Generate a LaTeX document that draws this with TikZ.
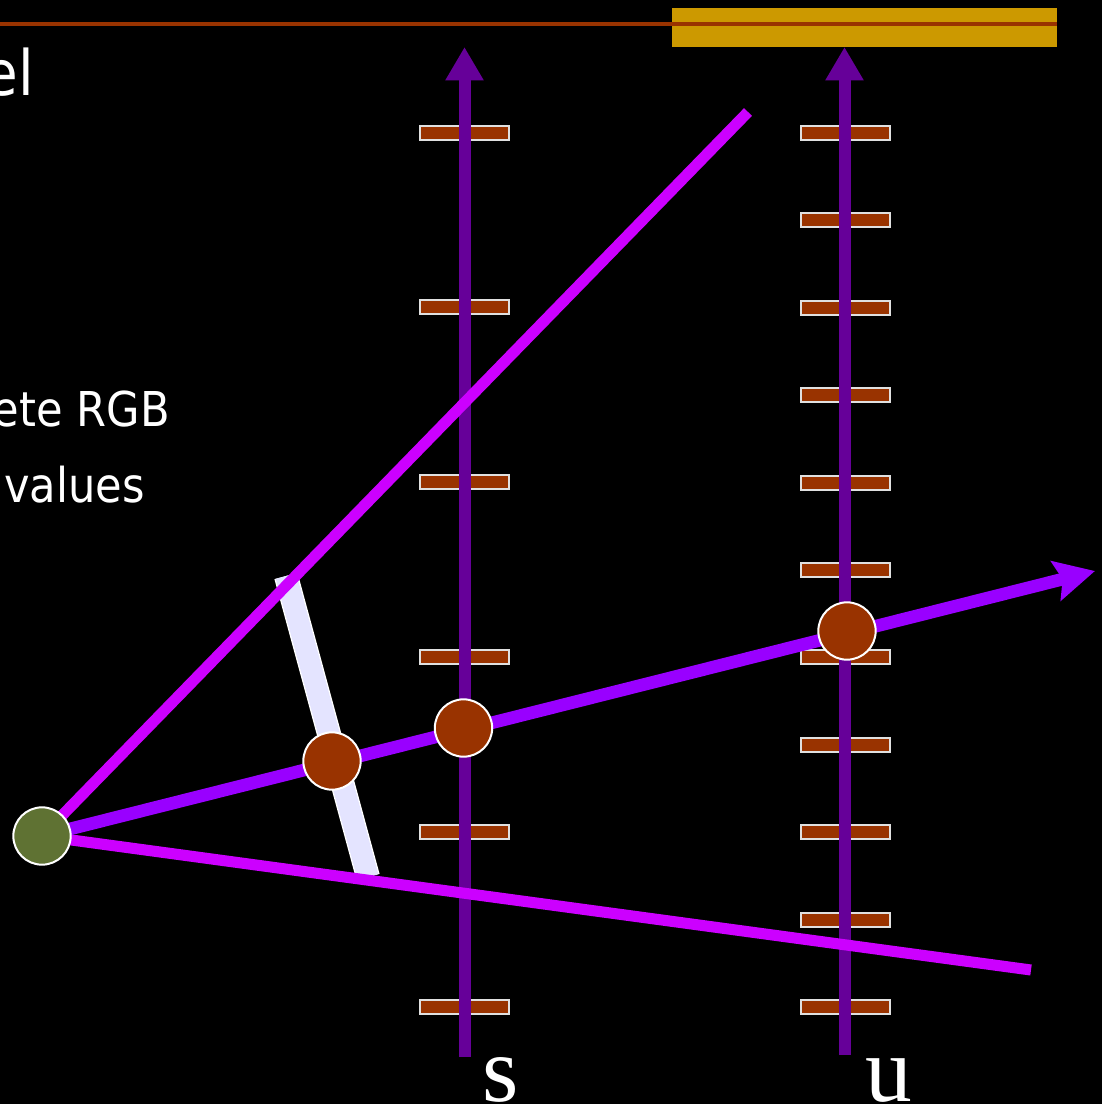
\documentclass[tikz,border=0pt]{standalone}
\usepackage{fontspec}
\setmainfont{Liberation Serif}
\newfontfamily\slidesans[FakeStretch=0.9]{DejaVu Sans}
\usetikzlibrary{arrows.meta}
\definecolor{bgblack}{RGB}{0,0,0}
\definecolor{brownc}{RGB}{153,51,0}
\definecolor{goldc}{RGB}{204,153,0}
\definecolor{axisc}{RGB}{102,0,153}
\definecolor{frustc}{RGB}{204,0,255}
\definecolor{rayc}{RGB}{153,0,255}
\definecolor{planec}{RGB}{228,228,255}
\definecolor{eyec}{RGB}{95,114,51}
\tikzset{
  tickbox/.style={draw=white!88!black, line width=1.5pt, fill=brownc, minimum width=67pt, minimum height=10.5pt, inner sep=0pt, rectangle},
  axisline/.style={axisc, line width=9pt, -{Triangle[length=25pt,width=27pt]}},
  frustline/.style={frustc, line width=8.3pt},
  rayline/.style={rayc, line width=9.5pt, -{Stealth[length=30pt,width=30pt,inset=5pt]}},
  dotnode/.style={circle, draw=white, line width=1.5pt, fill=brownc, minimum size=43pt, inner sep=0pt},
  eyenode/.style={circle, draw=white, line width=1.5pt, fill=eyec, minimum size=43pt, inner sep=0pt},
  slidetext/.style={text=white, inner sep=0pt, font=\slidesans\fontsize{36}{40}\selectfont},
  axlabel/.style={text=white, inner sep=0pt, font=\fontsize{70}{80}\selectfont}
}
\begin{document}
\begin{tikzpicture}[x=0.75pt,y=-0.75pt]
\fill[bgblack] (0,0) rectangle (1102,1104);
\useasboundingbox (0,0) rectangle (1102,1104);
% top bar
\fill[goldc] (672,8) rectangle (1057,47);
\coordinate (tl) at (0,24);
\coordinate (tr) at (1057,24);
\draw[brownc, line width=3pt] (tl) -- (tr);
% texts
\node[slidetext, font=\slidesans\fontsize{47}{50}\selectfont, anchor=base east] (t1) at (34,95) {el};
\node[slidetext, anchor=base east] (t2) at (170,426) {ete RGB};
\node[slidetext, anchor=base east] (t3) at (145,502) {values};
% ticks on s
\foreach \y [count=\i] in {133,307,482,657,832,1007}
  \node[tickbox] (ts\i) at (464.5,\y) {};
% ticks on u
\foreach \y [count=\i] in {133,220.4,307.8,395.2,482.6,570,657.4,744.8,832.2,919.6,1007}
  \node[tickbox] (tu\i) at (845.5,\y) {};
% axes
\coordinate (sbot) at (464.5,1057);
\coordinate (stop) at (464.5,47);
\coordinate (ubot) at (844.5,1055);
\coordinate (utop) at (844.5,47);
\draw[axisline] (sbot) -- (stop);
\draw[axisline] (ubot) -- (utop);
% image plane
\coordinate (pa) at (286,576);
\coordinate (pb) at (368,877);
\draw[white, line width=18pt] (pa) -- (pb);
\draw[planec, line width=16pt] (pa) -- (pb);
% eye and frustum
\coordinate (eyec) at (42,836);
\coordinate (fup) at (748,112);
\coordinate (flo) at (1031,970);
\draw[frustline] (eyec) -- (fup);
\draw[frustline] (eyec) -- (flo);
\coordinate (rayend) at (1095,571);
\draw[rayline] (eyec) -- (rayend);
\node[eyenode] (eye) at (eyec) {};
\node[dotnode] (d1) at (332,761) {};
\node[dotnode] (d2) at (463.5,728) {};
\node[dotnode] (d3) at (847,631) {};
% labels
\node[axlabel, anchor=base west] (ls) at (482,1101) {s};
\node[axlabel, anchor=base west] (lu) at (865,1101) {u};
\end{tikzpicture}
\end{document}
